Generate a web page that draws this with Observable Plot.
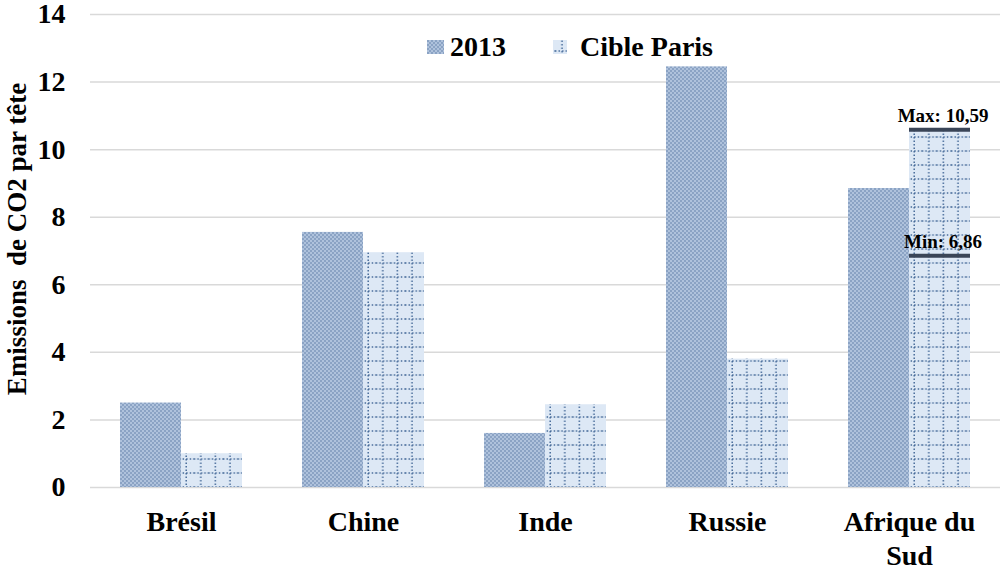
<!DOCTYPE html>
<html><head><meta charset="utf-8">
<script src="https://cdn.jsdelivr.net/npm/d3@7"></script>
<script src="https://cdn.jsdelivr.net/npm/@observablehq/plot@0.6"></script>
<style>
html,body{margin:0;padding:0;background:#fff;}
#wrap{position:relative;width:1001px;height:569px;font-family:"Liberation Serif","Times New Roman",serif;font-weight:bold;color:#000;}
#ylabel{position:absolute;left:17px;top:239px;transform:translate(-50%,-50%) rotate(-90deg);font-size:27px;white-space:pre;line-height:1;}
.leg{position:absolute;top:33px;font-size:28px;line-height:28px;white-space:nowrap;display:flex;align-items:center;}
.leg svg{margin-right:6px;}
</style></head><body>
<svg width="0" height="0" style="position:absolute">
<defs>
<pattern id="pat2013" patternUnits="userSpaceOnUse" width="4" height="4">
<rect width="4" height="4" fill="#afc2dc"/>
<circle cx="1" cy="1" r="0.75" fill="#5474a1"/>
<circle cx="3" cy="3" r="0.75" fill="#5474a1"/>
</pattern>
<pattern id="patParis" patternUnits="userSpaceOnUse" width="14.6" height="14" x="2" y="4">
<rect width="14.6" height="14" fill="#dde8f5"/>
<line x1="7" y1="0" x2="7" y2="14" stroke="#3f6595" stroke-width="1.4" stroke-dasharray="1.4 2.1"/>
<line x1="0" y1="7" x2="14.6" y2="7" stroke="#3f6595" stroke-width="1.4" stroke-dasharray="1.4 2.1"/>
</pattern>
</defs>
</svg>
<div id="wrap">
<div id="ylabel">Emissions  de CO2 par tête</div>
<div class="leg" style="left:427px"><svg width="17" height="14"><rect width="17" height="14" fill="url(#pat2013)"/></svg>2013</div>
<div class="leg" style="left:553px"><svg width="14" height="14"><rect width="14" height="14" fill="url(#patParis)"/></svg>&nbsp;Cible Paris</div>
</div>
<script>
const countries = ["Brésil", "Chine", "Inde", "Russie", "Afrique du Sud"];
const countryLabels = ["Brésil", "Chine", "Inde", "Russie", "Afrique du\nSud"];
const series = ["2013", "Cible Paris"];
const values2013 = [2.5, 7.55, 1.6, 12.45, 8.85];
const valuesParis = [1.0, 6.95, 2.45, 3.8, 10.59];
const yTicks = [0, 2, 4, 6, 8, 10, 12, 14];
const annotCountry = ["Afrique du Sud", "Afrique du Sud"];
const annotSeries = ["Cible Paris", "Cible Paris"];
const annotValues = [10.59, 6.86];
const annotLabels = ["Max: 10,59", "Min: 6,86"];

const rows2013 = countries.map((c, i) => ({country: c, series: series[0], value: values2013[i]}));
const rowsParis = countries.map((c, i) => ({country: c, series: series[1], value: valuesParis[i]}));
const annots = annotValues.map((v, i) => ({country: annotCountry[i], series: annotSeries[i], value: v, label: annotLabels[i]}));

const chart = Plot.plot({
  width: 1001,
  height: 569,
  marginLeft: 88,
  marginRight: 0,
  marginTop: 14,
  marginBottom: 82,
  style: {fontFamily: '"Liberation Serif", "Times New Roman", serif', fontWeight: "bold", fontSize: "28px", color: "#000", background: "transparent", overflow: "visible"},
  fx: {domain: countries, padding: 0, label: null, axis: null},
  x: {domain: series, paddingInner: 0, paddingOuter: 0.48, axis: null},
  y: {domain: [0, 14], label: null, axis: null},
  marks: [
    Plot.ruleY(yTicks, {stroke: "#d9d9d9", strokeWidth: 1.5}),
    Plot.barY(rows2013, {fx: "country", x: "series", y: "value", fill: "url(#pat2013)"}),
    Plot.barY(rowsParis, {fx: "country", x: "series", y: "value", fill: "url(#patParis)"}),
    Plot.tickY(annots, {fx: "country", x: "series", y: "value", stroke: "#3a4557", strokeWidth: 4}),
    Plot.text(annots, {fx: "country", x: "series", y: "value", text: "label", lineAnchor: "bottom", dy: -8, dx: 3, fontSize: 19, fill: "#000"}),
    Plot.axisY({ticks: yTicks, tickSize: 0, tickPadding: 25, fontSize: 28, label: null, tickFormat: d => String(d)}),
    Plot.axisFx({anchor: "bottom", tickSize: 0, tickPadding: 19, fontSize: 28, lineHeight: 1.22, label: null, tickFormat: d => countryLabels[countries.indexOf(d)]})
  ]
});
chart.style.position = "absolute";
chart.style.left = "0";
chart.style.top = "0";
const wrap = document.getElementById("wrap");
wrap.insertBefore(chart, wrap.firstChild);
</script>
</body></html>
